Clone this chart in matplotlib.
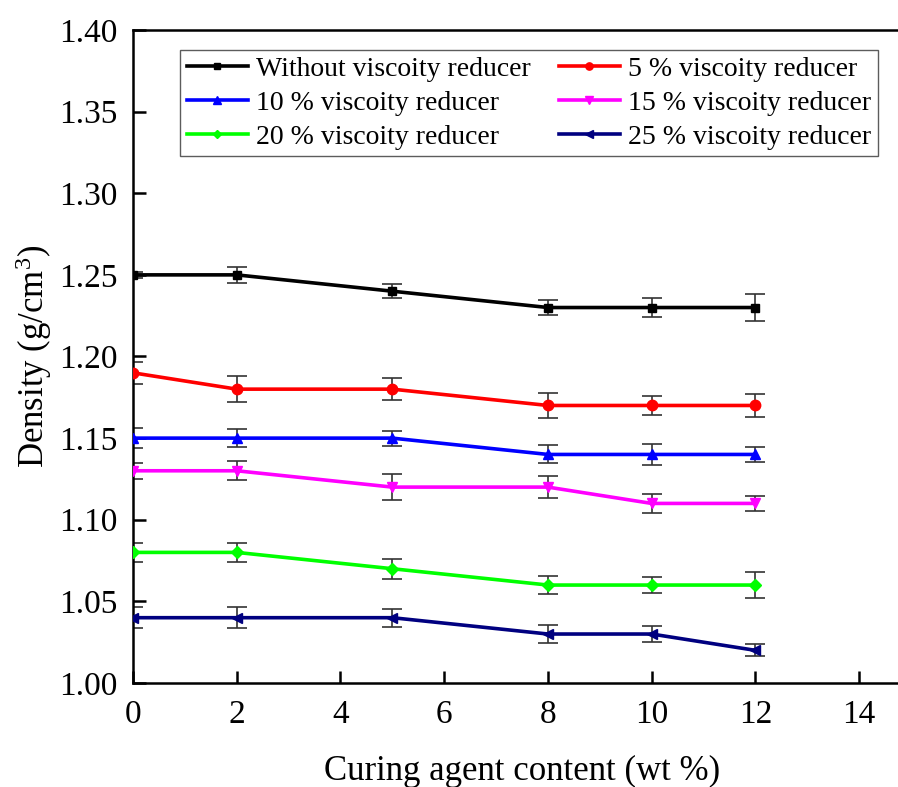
# coding=utf-8
"""
Densidad vs contenido de agente de curado.
"""

import matplotlib
matplotlib.use('Agg')
import matplotlib.pyplot as plt

# Datos
curing = [0, 2, 5, 8, 10, 12]

labels = ['Without viscoity reducer', '5 % viscoity reducer',
          '10 % viscoity reducer', '15 % viscoity reducer',
          '20 % viscoity reducer', '25 % viscoity reducer']

dens_0 = [1.25, 1.25, 1.24, 1.23, 1.23, 1.23]
dens_5 = [1.19, 1.18, 1.18, 1.17, 1.17, 1.17]
dens_10 = [1.15, 1.15, 1.15, 1.14, 1.14, 1.14]
dens_15 = [1.13, 1.13, 1.12, 1.12, 1.11, 1.11]
dens_20 = [1.08, 1.08, 1.07, 1.06, 1.06, 1.06]
dens_25 = [1.04, 1.04, 1.04, 1.03, 1.03, 1.02]

err_0 = [0.0018, 0.0051, 0.0043, 0.0046, 0.0058, 0.0080]
err_5 = [0.0067, 0.0080, 0.0066, 0.0077, 0.0058, 0.0068]
err_10 = [0.0060, 0.0057, 0.0046, 0.0055, 0.0064, 0.0048]
err_15 = [0.0050, 0.0057, 0.0079, 0.0066, 0.0056, 0.0045]
err_20 = [0.0056, 0.0056, 0.0062, 0.0053, 0.0047, 0.0077]
err_25 = [0.0066, 0.0066, 0.0054, 0.0056, 0.0047, 0.0036]

xticks = [0, 2, 4, 6, 8, 10, 12, 14]
yticks = [1.00, 1.05, 1.10, 1.15, 1.20, 1.25, 1.30, 1.35, 1.40]

series = [dens_0, dens_5, dens_10, dens_15, dens_20, dens_25]
errors = [err_0, err_5, err_10, err_15, err_20, err_25]
colors = ['#000000', '#ff0000', '#0000ff', '#ff00ff', '#00ff00', '#000080']
markers = ['s', 'o', '^', 'v', 'D', '<']
msizes = [6, 7.5, 7.5, 7.5, 6.5, 7.5]

plt.rcParams['font.family'] = ['Liberation Serif', 'DejaVu Serif']
plt.rcParams['mathtext.fontset'] = 'custom'
plt.rcParams['mathtext.rm'] = 'Liberation Serif'
plt.rcParams['mathtext.default'] = 'regular'

fig = plt.figure(figsize=(8.98, 7.87), dpi=100)
ax = fig.add_axes([133 / 898., 1 - 683 / 787., (911 - 133) / 898., 653 / 787.])

handles = []
for y, e, c, m, ms, lab in zip(series, errors, colors, markers, msizes, labels):
    ax.errorbar(curing, y, yerr=e, fmt='none', ecolor='#333333',
                elinewidth=1.2, capsize=7.5, capthick=1.2, zorder=2)
    h, = ax.plot(curing, y, color=c, marker=m, markersize=ms, linewidth=2.6,
                 label=lab, zorder=3)
    handles.append(h)

ax.set_xlim(0, 15)
ax.set_ylim(1.00, 1.40)
ax.set_xticks(xticks)
ax.set_yticks(yticks)
ax.set_yticklabels(['{0:.2f}'.format(v) for v in yticks])
ax.tick_params(direction='in', length=9, width=1.8, labelsize=24)
ax.tick_params(axis='x', pad=12)
ax.tick_params(axis='y', pad=11)
for s in ['left', 'bottom', 'top']:
    ax.spines[s].set_linewidth(1.8)
ax.spines['right'].set_visible(False)

ax.set_xlabel('Curing agent content (wt %)', fontsize=25, labelpad=18)
ax.set_ylabel('Density (g/cm$^{3}$)', fontsize=25, labelpad=4)

# Orden por filas como en la figura original
order = [0, 2, 4, 1, 3, 5]
leg = ax.legend([handles[i] for i in order], [labels[i] for i in order],
                ncol=2, loc='upper left', bbox_to_anchor=(0.06, 0.97),
                borderaxespad=0, fontsize=20, frameon=True, fancybox=False,
                edgecolor='#333333', handlelength=2.2, handletextpad=0.3,
                columnspacing=1.0, labelspacing=0.3, borderpad=0.25,
                markerscale=0.7)
leg.get_frame().set_linewidth(1.0)

fig.savefig('out.png', dpi=100)
